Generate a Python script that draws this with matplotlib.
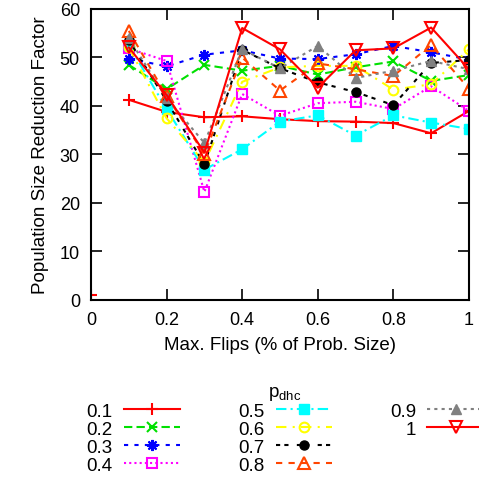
import matplotlib.pyplot as plt
from matplotlib.lines import Line2D

plt.rcParams['font.family'] = ['Liberation Sans', 'DejaVu Sans']

flips = [0.1, 0.2, 0.3, 0.4, 0.5, 0.6, 0.7, 0.8, 0.9, 1.0]
labels = ["0.1", "0.2", "0.3", "0.4", "0.5", "0.6", "0.7", "0.8", "0.9", "1"]

p01 = [41.2, 38.7, 37.6, 37.8, 37.2, 36.8, 36.7, 36.4, 34.3, 38.9]
p02 = [48.4, 43.4, 48.4, 47.2, 48.2, 46.4, 47.9, 49.1, 45.1, 46.3]
p03 = [49.7, 48.1, 50.5, 51.4, 49.7, 49.6, 50.6, 52.3, 51.0, 49.5]
p04 = [51.8, 49.2, 22.2, 42.4, 37.9, 40.5, 40.8, 39.3, 44.0, 38.9]
p05 = [52.5, 39.3, 26.8, 31.0, 36.7, 38.0, 33.8, 38.0, 36.5, 35.2]
p06 = [52.0, 37.4, 28.3, 44.9, 47.9, 48.2, 48.2, 43.3, 44.4, 51.6]
p07 = [53.5, 41.0, 27.9, 51.5, 47.7, 44.8, 42.8, 40.1, 48.8, 49.4]
p08 = [55.4, 42.0, 30.0, 49.9, 43.1, 48.7, 47.5, 46.1, 52.5, 43.5]
p09 = [53.9, 41.5, 32.3, 51.6, 47.7, 52.3, 45.7, 47.2, 49.2, 47.5]
p10 = [52.0, 42.2, 30.3, 56.0, 51.6, 43.7, 51.4, 51.8, 56.1, 47.5]

# lone point of the 0.1 run at zero flips
zero_x = [0.0]
zero_y = [1.0]

series = [p01, p02, p03, p04, p05, p06, p07, p08, p09, p10]
styles = [
    dict(color='#ff0000', ls='-', marker='+', mfc='none', ms=8, mew=1.5),
    dict(color='#00e000', ls=(0, (4, 2)), marker='x', mfc='none', ms=7, mew=1.5),
    dict(color='#0000ff', ls=(0, (2, 3)), marker=(8, 2, 0), mfc='none', ms=8, mew=1.5),
    dict(color='#ff00ff', ls=(0, (1, 1.5)), marker='s', mfc='none', ms=7, mew=1.5),
    dict(color='#00ffff', ls=(0, (5, 2, 1, 2)), marker='s', ms=6.5, mew=1),
    dict(color='#ffff00', ls=(0, (5, 3, 1, 3)), marker='o', mfc='none', ms=7, mew=1.5),
    dict(color='#000000', ls=(0, (2, 2, 2, 4)), marker='o', ms=6.5, mew=1),
    dict(color='#ff4500', ls=(0, (3, 3)), marker='^', mfc='none', ms=8, mew=1.5),
    dict(color='#808080', ls=(0, (1.5, 2)), marker='^', ms=6.5, mew=1),
    dict(color='#ff0000', ls='-', marker='v', mfc='none', ms=8, mew=1.5),
]

fig = plt.figure(figsize=(4.79, 4.81), dpi=100)
ax = fig.add_axes([0.19, 0.375, 0.789, 0.605])

handles = []
for y, lab, st in zip(series, labels, styles):
    h, = ax.plot(flips, y, lw=1.5, label=lab, **st)
    handles.append(h)
ax.plot(zero_x, zero_y, ls='none', **{k: v for k, v in styles[0].items() if k != 'ls'})

ax.set_xlim(0, 1)
ax.set_ylim(0, 60)
ax.set_xticks([0, 0.2, 0.4, 0.6, 0.8, 1])
ax.set_xticklabels(["0", "0.2", "0.4", "0.6", "0.8", "1"])
ax.set_yticks(range(0, 61, 10))
ax.tick_params(direction='in', length=8, width=1.2, top=True, right=True,
               labelsize=13, pad=8)
for s in ax.spines.values():
    s.set_linewidth(1.5)
ax.set_xlabel("Max. Flips (% of Prob. Size)", fontsize=13.5, labelpad=6)
ax.set_ylabel("Population Size Reduction Factor", fontsize=13.5, labelpad=8)

# two empty slots so the columns fill 4, 4, 2
blank = Line2D([], [], ls='none')
fig.legend(handles + [blank, blank], labels + ["", ""],
           loc='upper center', bbox_to_anchor=(0.595, 0.218), ncol=3,
           markerfirst=False, frameon=False, title="$\\mathregular{p_{dhc}}$",
           fontsize=13.5, title_fontsize=13.5, handlelength=3.0,
           labelspacing=0.05, columnspacing=3.1, borderaxespad=0,
           handletextpad=0.6)

fig.savefig("out.png", dpi=100)
